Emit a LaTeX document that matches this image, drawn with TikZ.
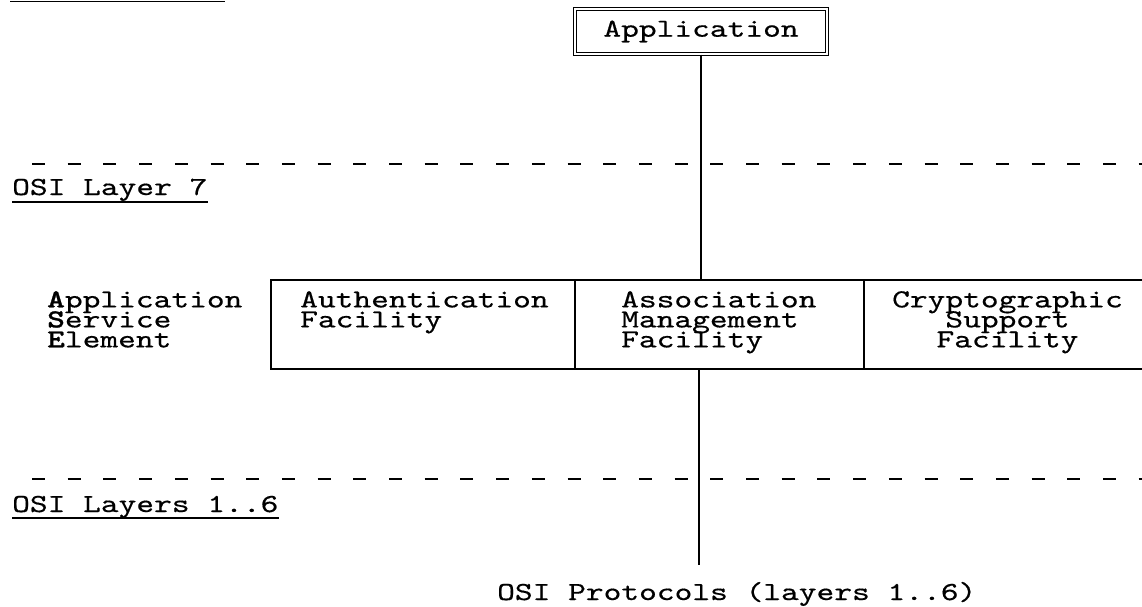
\documentclass[tikz,border=0pt]{standalone}
\usepackage{fontspec}
\newfontfamily\tw[FakeStretch=1.3, FakeBold=0.5, BoldFont=lmmonolt10-bold.otf, BoldFeatures={FakeBold=1}]{lmmono10-regular.otf}
\newcommand\mytightlines{\lineskiplimit=-100pt\relax\lineskip=0pt\relax}
\begin{document}
\begin{tikzpicture}[x=1pt,y=-1pt,
  lbl/.style={inner sep=0pt, font=\tw\fontsize{26}{20}\selectfont\mytightlines},
  facbox/.style={draw, line width=1.6pt, inner sep=0pt, anchor=north west, minimum height=89pt},
  dashline/.style={line width=2.6pt, dash pattern=on 13pt off 22.7pt},
  conn/.style={line width=1.8pt},
  uline/.style={line width=1.5pt}]
\useasboundingbox (0,0) rectangle (1142,606);
% cut-off underline at the top
\draw[uline] (10,1.5) -- (225,1.5);
% application
\node[lbl, draw, double, double distance=2.2pt, line width=1.1pt, minimum width=252pt, minimum height=45pt] (app) at (701,31.5) {Application};
% layer 7 boundary
\draw[dashline] (32,164) -- (1150,164);
\node[lbl, anchor=base west] (l7) at (12,195) {OSI Layer 7};
\draw[uline] ([yshift=-7pt]l7.base west) -- ([yshift=-7pt]l7.base east);
% ASE label
\node[lbl, anchor=north west, align=left] (ase) at (47,291) {\textbf{A}pplication\\\textbf{S}ervice\\\textbf{E}lement};
% facility boxes
\node[facbox, minimum width=304pt] (auth) at (270,279) {};
\node[facbox, minimum width=289pt] (assoc) at (574,279) {};
\node[facbox, minimum width=287pt] (crypt) at (863,279) {};
\node[lbl, anchor=north west, align=left] (autht) at (300,291) {Authentication\\Facility};
\node[lbl, anchor=north west, align=left] (assoct) at (621,291) {Association\\Management\\Facility};
\node[lbl, anchor=north, align=center] (cryptt) at (1007.5,291) {Cryptographic\\Support\\Facility};
% connectors
\draw[conn] (app.south) -- (app.south |- assoc.north);
\coordinate (pend) at (699,565);
\draw[conn] (pend |- assoc.south) -- (pend);
% layers 1..6 boundary
\draw[dashline] (32,479) -- (1150,479);
\node[lbl, anchor=base west] (l16) at (12,512) {OSI Layers 1..6};
\draw[uline] ([yshift=-6pt]l16.base west) -- ([yshift=-6pt]l16.base east);
\node[lbl, anchor=base west] (proto) at (497,600) {OSI Protocols (layers 1..6)};
\end{tikzpicture}
\end{document}
